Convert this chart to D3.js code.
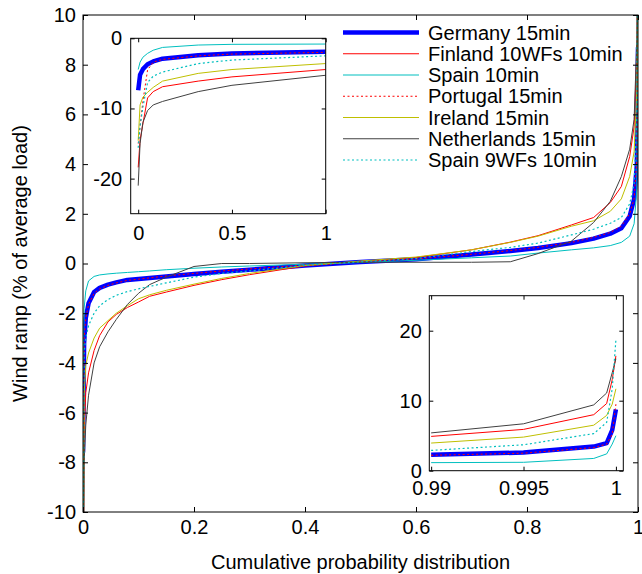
<!DOCTYPE html>
<html>
<head>
<meta charset="utf-8">
<script src="https://cdn.jsdelivr.net/npm/d3@7"></script>
<style>
body { margin: 0; background: #fff; }
svg { display: block; font-family: "Liberation Sans", Arial, sans-serif; }
</style>
</head>
<body>
<script>
// series names in legend order
const seriesNames = ['Germany 15min', 'Finland 10WFs 10min', 'Spain 10min', 'Portugal 15min',
    'Ireland 15min', 'Netherlands 15min', 'Spain 9WFs 10min'];

// main plot: whole distribution
const mainX = [0, 0.002, 0.005, 0.01, 0.02, 0.03, 0.045, 0.06, 0.08, 0.1, 0.12, 0.15, 0.2, 0.25, 0.3,
    0.4, 0.5, 0.6, 0.7, 0.77, 0.82, 0.88, 0.92, 0.95, 0.97, 0.985, 0.993, 0.998, 1];
const mainGermany = [-7.6, -3.2, -2.2, -1.6, -1.15, -0.98, -0.85, -0.76, -0.66, -0.62, -0.58, -0.52, -0.42, -0.33, -0.25,
    -0.08, 0.06, 0.17, 0.36, 0.5, 0.62, 0.82, 1.0, 1.2, 1.42, 1.9, 2.6, 4.0, 8.7];
const mainFinland = [-18.4, -6.8, -5.2, -4.4, -3.5, -2.9, -2.35, -2.05, -1.77, -1.55, -1.32, -1.15, -0.88, -0.65, -0.45,
    -0.1, 0.08, 0.24, 0.55, 0.86, 1.12, 1.55, 1.85, 2.45, 3.1, 4.3, 5.5, 8.5, 16.4];
const mainSpain = [-4.45, -1.8, -1.1, -0.7, -0.52, -0.46, -0.42, -0.39, -0.36, -0.33, -0.3, -0.25, -0.19, -0.14, -0.1,
    -0.03, 0.04, 0.13, 0.23, 0.3, 0.42, 0.55, 0.63, 0.72, 0.85, 1.1, 1.6, 3.0, 11];
const mainPortugal = [-15, -3.0, -2.2, -1.65, -1.2, -1.02, -0.88, -0.78, -0.68, -0.63, -0.58, -0.5, -0.4, -0.3, -0.22,
    -0.06, 0.07, 0.18, 0.37, 0.52, 0.65, 0.85, 1.05, 1.25, 1.5, 2.0, 2.6, 4.2, 12];
const mainIreland = [-14.6, -5.3, -4.1, -3.6, -3.0, -2.6, -2.3, -2.0, -1.7, -1.42, -1.26, -1.08, -0.83, -0.6, -0.4,
    -0.08, 0.1, 0.26, 0.55, 0.85, 1.1, 1.5, 1.72, 2.1, 2.6, 3.5, 4.5, 7.0, 11.7];
const mainNetherlands = [-21, -8.0, -6.5, -5.3, -4.0, -3.35, -2.75, -2.25, -1.65, -1.2, -0.85, -0.55, -0.12, 0.0, 0.0,
    0.03, 0.05, 0.05, 0.05, 0.07, 0.4, 0.9, 1.65, 2.5, 3.5, 4.6, 5.8, 9.0, 16];
const mainSpain9 = [-15.6, -3.6, -3.0, -2.5, -2.0, -1.7, -1.45, -1.28, -1.13, -1.02, -0.92, -0.78, -0.55, -0.4, -0.3,
    -0.08, 0.07, 0.2, 0.48, 0.65, 0.82, 1.15, 1.38, 1.62, 1.85, 2.4, 3.2, 6.0, 18.7];

// upper-left inset: lowest 1 %
const lowX = [0, 0.01, 0.025, 0.05, 0.08, 0.13, 0.32, 0.5, 1];
const lowGermany = [-7.4, -5.2, -4.4, -3.7, -3.3, -2.9, -2.4, -2.15, -1.92];
const lowFinland = [-18.4, -14.5, -12.2, -8.5, -7.6, -6.9, -6.1, -5.5, -4.45];
const lowSpain = [-4.45, -3.4, -2.7, -2.15, -1.7, -1.3, -0.96, -0.86, -0.82];
const lowPortugal = [-15, -12.5, -9, -4.5, -3.4, -3.0, -2.5, -2.25, -2.0];
const lowIreland = [-14.6, -9.5, -8.4, -7.7, -7.0, -6.1, -5.0, -4.45, -3.6];
const lowNetherlands = [-21, -15, -12, -10.3, -9.5, -9.0, -7.6, -6.7, -5.27];
const lowSpain9 = [-15.6, -12.5, -9.8, -6.3, -5.4, -4.8, -3.6, -3.1, -2.5];

// lower-right inset: highest 1 %
const highX = [0.99, 0.995, 0.9988, 0.9995, 0.9998, 1];
const highGermany = [2.27, 2.6, 3.45, 3.95, 5.8, 8.76];
const highFinland = [4.9, 5.9, 8.0, 9.6, 13.0, 16.4];
const highSpain = [1.15, 1.2, 1.75, 2.4, 3.8, 5.0];
const highPortugal = [2.2, 2.5, 3.3, 3.8, 5.2, 9.5];
const highIreland = [3.95, 4.8, 6.5, 7.9, 9.5, 11.7];
const highNetherlands = [5.4, 6.7, 9.4, 11.1, 14.0, 16.0];
const highSpain9 = [2.9, 3.7, 5.3, 6.9, 11.7, 18.7];

// tick values
const mainXTicks = [0, 0.2, 0.4, 0.6, 0.8, 1];
const mainYTicks = [-10, -8, -6, -4, -2, 0, 2, 4, 6, 8, 10];
const lowXTicks = [0, 0.5, 1];
const lowYTicks = [-20, -10, 0];
const highXTicks = [0.99, 0.995, 1];
const highYTicks = [0, 10, 20];

// styles
const colors = ['#0000ff', '#ff0000', '#00bfbf', '#ff0000', '#bfbf00', '#404040', '#00bfbf'];
const widths = [4.5, 1, 1, 1, 1, 1, 1.2];
const dashes = [null, null, null, '2,2.5', null, null, '2,2.5'];

const svg = d3.select('body').append('svg')
    .attr('width', 642)
    .attr('height', 574);

function drawPanel(id, box, xDom, yDom, xTicks, yTicks, xs, ys, padX, padY, tick) {
    const x = d3.scaleLinear(xDom, [box.x0, box.x1]);
    const y = d3.scaleLinear(yDom, [box.y1, box.y0]);
    const g = svg.append('g');
    const w = box.x1 - box.x0, h = box.y1 - box.y0;

    g.append('rect')
        .attr('x', box.x0).attr('y', box.y0).attr('width', w).attr('height', h)
        .attr('fill', '#fff');

    g.append('clipPath').attr('id', id)
        .append('rect')
        .attr('x', box.x0).attr('y', box.y0).attr('width', w).attr('height', h);

    const line = d3.line()
        .x(d => x(d[0]))
        .y(d => y(d[1]));

    const lines = g.append('g').attr('clip-path', `url(#${id})`);
    ys.forEach((vals, k) => {
        lines.append('path')
            .datum(d3.zip(xs, vals))
            .attr('fill', 'none')
            .attr('stroke', colors[k])
            .attr('stroke-width', widths[k])
            .attr('stroke-dasharray', dashes[k])
            .attr('stroke-linejoin', 'round')
            .attr('d', line);
    });

    const fmt = d => String(d);
    const none = () => '';
    g.append('g').attr('transform', `translate(0,${box.y1})`)
        .call(d3.axisBottom(x).tickValues(xTicks).tickFormat(fmt).tickSize(-tick).tickPadding(padX));
    g.append('g').attr('transform', `translate(0,${box.y0})`)
        .call(d3.axisTop(x).tickValues(xTicks).tickFormat(none).tickSize(-tick));
    g.append('g').attr('transform', `translate(${box.x0},0)`)
        .call(d3.axisLeft(y).tickValues(yTicks).tickFormat(fmt).tickSize(-tick).tickPadding(padY));
    g.append('g').attr('transform', `translate(${box.x1},0)`)
        .call(d3.axisRight(y).tickValues(yTicks).tickFormat(none).tickSize(-tick));

    g.selectAll('.domain').remove();
    g.selectAll('.tick line').attr('stroke', '#000');
    g.selectAll('.tick text')
        .attr('font-size', 20)
        .attr('font-family', '"Liberation Sans", Arial, sans-serif')
        .attr('fill', '#000');

    g.append('rect')
        .attr('x', box.x0).attr('y', box.y0).attr('width', w).attr('height', h)
        .attr('fill', 'none')
        .attr('stroke', '#000')
        .attr('stroke-width', 1);
}

drawPanel('clipMain', {x0: 83, x1: 638, y0: 15, y1: 512}, [0, 1], [-10, 10],
    mainXTicks, mainYTicks, mainX,
    [mainGermany, mainFinland, mainSpain, mainPortugal, mainIreland, mainNetherlands, mainSpain9],
    8, 7, 5);

drawPanel('clipLow', {x0: 130.7, x1: 325.7, y0: 38.3, y1: 213.7}, [-0.04, 1], [-25, 0],
    lowXTicks, lowYTicks, lowX,
    [lowGermany, lowFinland, lowSpain, lowPortugal, lowIreland, lowNetherlands, lowSpain9],
    12, 8.5, 4);

drawPanel('clipHigh', {x0: 429.3, x1: 623.3, y0: 295.7, y1: 470.7}, [0.9899, 1.0004], [0, 25],
    highXTicks, highYTicks, highX,
    [highGermany, highFinland, highSpain, highPortugal, highIreland, highNetherlands, highSpain9],
    10, 7.5, 4);

// legend
const legend = svg.append('g');
seriesNames.forEach((name, k) => {
    const ly = 32.5 + 21.25 * k;
    legend.append('line')
        .attr('x1', 343).attr('x2', 419)
        .attr('y1', ly).attr('y2', ly)
        .attr('stroke', colors[k])
        .attr('stroke-width', widths[k])
        .attr('stroke-dasharray', dashes[k]);
    legend.append('text')
        .attr('x', 428).attr('y', ly)
        .attr('dy', '0.35em')
        .attr('font-size', 20)
        .attr('fill', '#000')
        .text(name);
});

// axis titles
svg.append('text')
    .attr('x', 360.5).attr('y', 569)
    .attr('text-anchor', 'middle')
    .attr('font-size', 20)
    .text('Cumulative probability distribution');

svg.append('text')
    .attr('transform', 'translate(27,263.5) rotate(-90)')
    .attr('text-anchor', 'middle')
    .attr('font-size', 20)
    .text('Wind ramp (% of average load)');
</script>
</body>
</html>
